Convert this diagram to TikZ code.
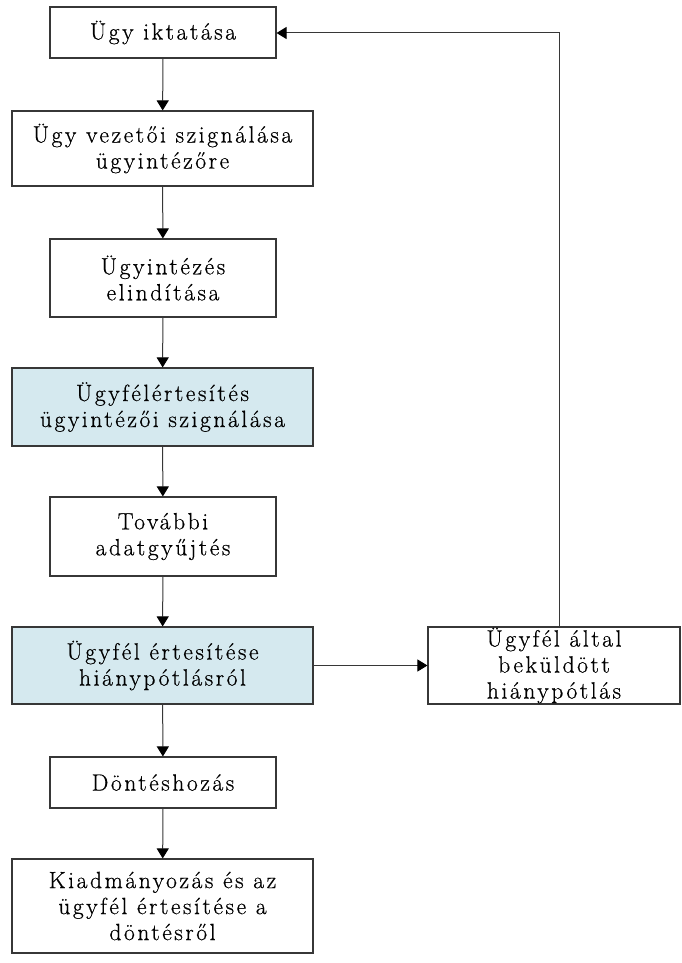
\documentclass[tikz,border=0pt]{standalone}
\usepackage{fontspec}
\setmainfont{Latin Modern Roman}[LetterSpace=11,FakeBold=0.6]
\usetikzlibrary{arrows.meta}
\definecolor{paleblue}{RGB}{213,233,239}
\definecolor{edge}{RGB}{55,55,55}
\tikzset{
  x=1pt, y=-1pt,
  stepbox/.style={draw=edge, line width=1.1pt, fill=white, align=center,
    inner sep=0pt, font=\fontsize{23.5}{26}\selectfont},
  hl/.style={fill=paleblue},
  flow/.style={draw=edge, line width=1pt, -{Triangle[length=10pt,width=12pt,color=black]}}
}
\begin{document}
\begin{tikzpicture}
\useasboundingbox (0,0) rectangle (681,963);
% main column
\node[stepbox, minimum width=226pt, minimum height=51pt] (b1) at (163,32.5) {Ügy iktatása};
\node[stepbox, minimum width=301pt, minimum height=75pt] (b2) at (162.5,148.5) {Ügy vezetői szignálása\\ügyintézőre};
\node[stepbox, minimum width=226pt, minimum height=78pt] (b3) at (163,278) {Ügyintézés\\elindítása};
\node[stepbox, hl, minimum width=301pt, minimum height=78pt] (b4) at (162.5,407) {Ügyfélértesítés\\ügyintézői szignálása};
\node[stepbox, minimum width=226pt, minimum height=79pt] (b5) at (163,536.5) {További\\adatgyűjtés};
\node[stepbox, hl, minimum width=301pt, minimum height=77pt] (b6) at (162.5,665.5) {Ügyfél értesítése\\hiánypótlásról};
\node[stepbox, minimum width=226pt, minimum height=51pt] (b7) at (163,782.5) {Döntéshozás};
\node[stepbox, minimum width=301pt, minimum height=94pt] (b8) at (162.5,906) {Kiadmányozás és az\\ügyfél értesítése a\\döntésről};
% side box
\node[stepbox, minimum width=252pt, minimum height=77pt] (r) at (554,665.5) {Ügyfél által\\beküldött\\hiánypótlás};
% connectors
\draw[flow] (b1) -- (b2);
\draw[flow] (b2) -- (b3);
\draw[flow] (b3) -- (b4);
\draw[flow] (b4) -- (b5);
\draw[flow] (b5) -- (b6);
\draw[flow] (b6) -- (b7);
\draw[flow] (b7) -- (b8);
\draw[flow] (b6) -- (r);
\coordinate (turn) at (559,33);
\draw[flow] (r.north -| turn) -- (turn) -- (b1.east |- turn);
\end{tikzpicture}
\end{document}
